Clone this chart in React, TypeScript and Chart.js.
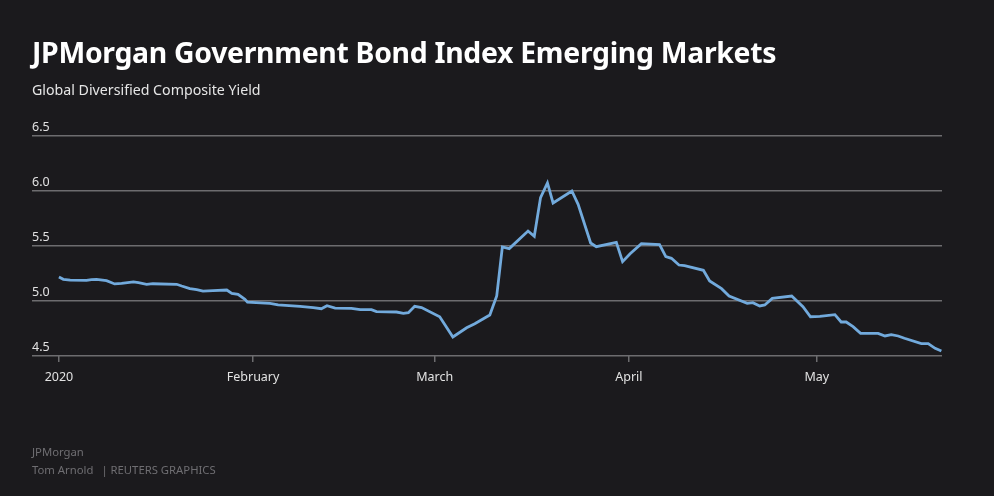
import React, { useEffect, useRef } from "react";
import { Chart, registerables } from "chart.js";

Chart.register(...registerables);

// Days since 1 Jan 2020 for each vertex of the line
const days: number[] = [
  0, 0.7, 1.8, 4.4, 5.2, 6.0, 7.6, 8.9, 10.0, 11.9, 12.7, 14.0, 15.0, 18.8, 19.6, 20.9, 22.0, 23.0,
  24.6, 26.8, 27.6, 28.6, 29.7, 30.1, 33.7, 35.0, 38.5, 40.6, 41.9, 42.8, 44.1, 46.7, 48.1, 49.9,
  50.7, 53.9, 55.0, 55.8, 56.8, 57.9, 60.8, 62.9, 65.1, 66.4, 68.8, 69.9, 70.8, 71.9, 74.9, 75.9,
  76.9, 78.0, 78.9, 81.9, 82.9, 84.9, 85.8, 89.0, 90.0, 91.2, 93.0, 95.9, 96.9, 97.8, 99.0, 99.9,
  102.9, 103.9, 105.8, 107.0, 109.9, 110.8, 111.9, 112.7, 113.9, 117.0, 118.8, 120.0, 121.5, 123.9,
  124.9, 125.7, 126.8, 128.0, 130.8, 131.9, 132.9, 134.0, 135.0, 137.7, 138.8, 139.9, 140.9,
];

// Composite yield (%)
const yieldValues: number[] = [
  5.218, 5.197, 5.19, 5.188, 5.194, 5.197, 5.185, 5.155, 5.16, 5.173, 5.166, 5.152, 5.157, 5.152,
  5.136, 5.112, 5.103, 5.09, 5.094, 5.1, 5.07, 5.06, 5.015, 4.99, 4.979, 4.964, 4.952, 4.94, 4.93,
  4.957, 4.936, 4.933, 4.921, 4.921, 4.903, 4.9, 4.888, 4.894, 4.952, 4.94, 4.857, 4.673, 4.757,
  4.794, 4.873, 5.045, 5.491, 5.476, 5.636, 5.588, 5.94, 6.073, 5.891, 6.0, 5.879, 5.527, 5.494,
  5.533, 5.358, 5.43, 5.521, 5.512, 5.403, 5.388, 5.327, 5.321, 5.279, 5.182, 5.112, 5.045, 4.979,
  4.985, 4.955, 4.964, 5.024, 5.045, 4.948, 4.857, 4.861, 4.876, 4.809, 4.809, 4.767, 4.706, 4.706,
  4.682, 4.694, 4.682, 4.661, 4.612, 4.612, 4.57, 4.545,
];

const monthTickDays: number[] = [0, 31, 60, 91, 121];
const monthTickLabels: string[] = ["2020", "February", "March", "April", "May"];
const yTicks: number[] = [4.5, 5.0, 5.5, 6.0, 6.5];

const BG = "#1b1a1d";
const GRID = "#6d6c6f";
const LINE = "#72aadc";
const FONT = "'Noto Sans', sans-serif";

export default function App() {
  const canvasRef = useRef<HTMLCanvasElement | null>(null);

  useEffect(() => {
    if (!canvasRef.current) return;
    const points = days.map((d, i) => ({ x: d, y: yieldValues[i] }));
    const chart = new Chart(canvasRef.current, {
      type: "line",
      data: {
        datasets: [
          {
            data: points,
            borderColor: LINE,
            borderWidth: 2.8,
            pointRadius: 0,
            tension: 0,
            fill: false,
          },
        ],
      },
      options: {
        animation: false,
        responsive: false,
        maintainAspectRatio: false,
        layout: { padding: { left: 32, right: 52, top: 136, bottom: 100 } },
        plugins: { legend: { display: false }, tooltip: { enabled: false } },
        scales: {
          x: {
            type: "linear",
            min: -4.3,
            max: 141,
            afterBuildTicks: (scale: any) => {
              scale.ticks = monthTickDays.map((v) => ({ value: v }));
            },
            afterFit: (scale: any) => {
              scale.height = 40;
            },
            border: { display: false },
            grid: {
              drawOnChartArea: false,
              drawTicks: true,
              tickLength: 6,
              color: GRID,
              lineWidth: 1.5,
            },
            ticks: {
              autoSkip: false,
              maxRotation: 0,
              padding: 8,
              color: "#e2e2e2",
              font: { family: FONT, size: 12.5 },
              callback: (value: any) => {
                const idx = monthTickDays.indexOf(Number(value));
                return idx >= 0 ? monthTickLabels[idx] : "";
              },
            },
          },
          y: {
            min: 4.5,
            max: 6.5,
            afterBuildTicks: (scale: any) => {
              scale.ticks = yTicks.map((v) => ({ value: v }));
            },
            afterFit: (scale: any) => {
              scale.width = 0;
            },
            border: { display: false },
            grid: {
              color: GRID,
              lineWidth: 1.5,
              drawTicks: false,
            },
            ticks: {
              mirror: true,
              padding: 0,
              labelOffset: -9,
              color: "#e2e2e2",
              font: { family: FONT, size: 12.5 },
              callback: (value: any) => Number(value).toFixed(1),
            },
          },
        },
      },
    });
    return () => chart.destroy();
  }, []);

  return (
    <div
      style={{
        position: "absolute",
        left: 0,
        top: 0,
        width: 994,
        height: 496,
        background: BG,
        overflow: "hidden",
        fontFamily: FONT,
      }}
    >
      <canvas
        ref={canvasRef}
        width={994}
        height={496}
        style={{ position: "absolute", left: 0, top: 0, width: 994, height: 496 }}
      />
      <div
        style={{
          position: "absolute",
          left: 32,
          top: 33,
          fontSize: 28.4,
          fontWeight: 700,
          color: "#ffffff",
          whiteSpace: "nowrap",
          lineHeight: "38px",
          letterSpacing: -0.3,
        }}
      >
        JPMorgan Government Bond Index Emerging Markets
      </div>
      <div
        style={{
          position: "absolute",
          left: 32,
          top: 80,
          fontSize: 14.2,
          color: "#e6e6e6",
          whiteSpace: "nowrap",
          lineHeight: "20px",
        }}
      >
        Global Diversified Composite Yield
      </div>
      <div
        style={{
          position: "absolute",
          left: 32,
          top: 443,
          fontSize: 11.3,
          color: "#6f6e72",
          whiteSpace: "nowrap",
          lineHeight: "18px",
        }}
      >
        <div>JPMorgan</div>
        <div>
          Tom Arnold<span style={{ marginLeft: 8 }}>| REUTERS GRAPHICS</span>
        </div>
      </div>
    </div>
  );
}
